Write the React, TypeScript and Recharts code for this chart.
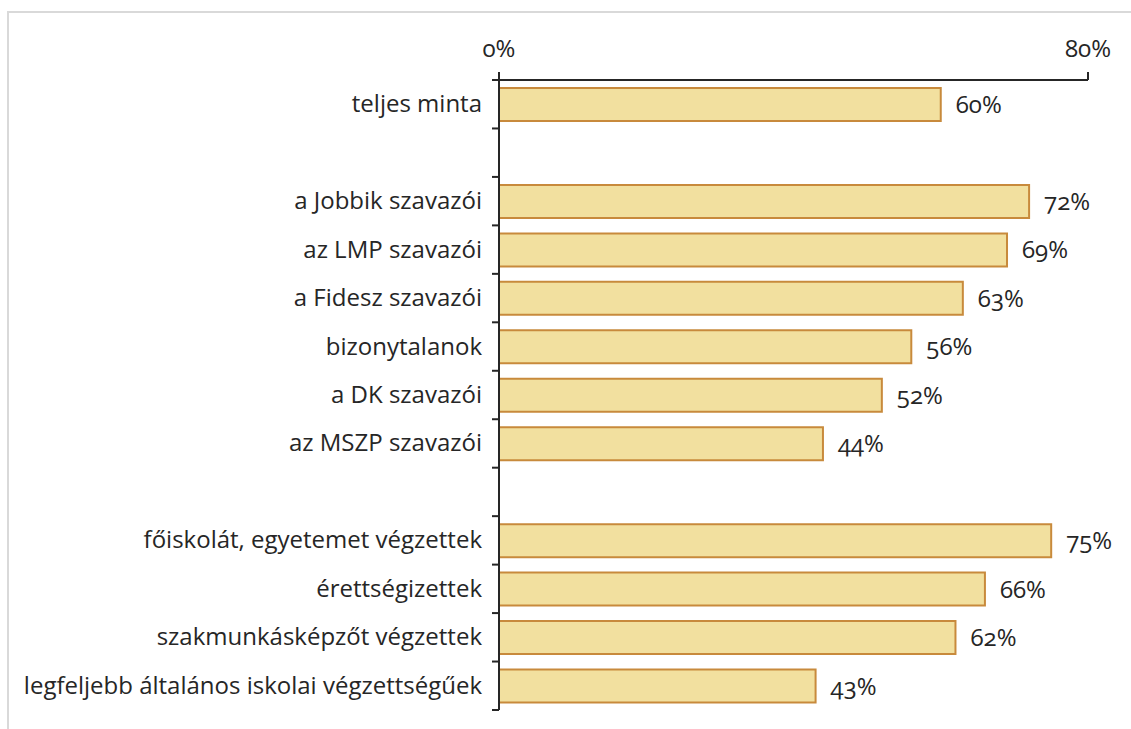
import React from "react";
import { BarChart, Bar, XAxis, YAxis, LabelList } from "recharts";

const categories = [
  "teljes minta",
  " ",
  "a Jobbik szavazói",
  "az LMP szavazói",
  "a Fidesz szavazói",
  "bizonytalanok",
  "a DK szavazói",
  "az MSZP szavazói",
  "  ",
  "főiskolát, egyetemet végzettek",
  "érettségizettek",
  "szakmunkásképzőt végzettek",
  "legfeljebb általános iskolai végzettségűek",
];
const values: (number | null)[] = [60, null, 72, 69, 63, 56, 52, 44, null, 75, 66, 62, 43];
const xTicks = [0, 80];

const data = categories.map((name, i) => ({ name, value: values[i] }));

const W = 1131;
const H = 729;
const PLOT_TOP = 80;
const PLOT_BOTTOM = 710;
const AXIS_X = 499;
const BAND = (PLOT_BOTTOM - PLOT_TOP) / categories.length;
const FONT = "'Open Sans', sans-serif";
const TEXT = "#262626";
const FS = 24;

function CategoryTick(props: any) {
  const { y, payload, index } = props;
  const top = y - BAND / 2;
  const isLast = index === categories.length - 1;
  return (
    <g>
      <line x1={AXIS_X - 7} x2={AXIS_X} y1={top} y2={top} stroke={TEXT} strokeWidth={2} />
      {isLast && (
        <line x1={AXIS_X - 7} x2={AXIS_X} y1={top + BAND} y2={top + BAND} stroke={TEXT} strokeWidth={2} />
      )}
      <text
        x={AXIS_X - 17}
        y={y}
        dy={8}
        textAnchor="end"
        fill={TEXT}
        fontSize={FS}
        fontFamily={FONT}
        style={{ fontVariantNumeric: "oldstyle-nums" }}
      >
        {payload.value.trim()}
      </text>
    </g>
  );
}

export default function App() {
  return (
    <div style={{ position: "absolute", left: 0, top: 0, width: W, height: H, background: "#fff" }}>
      <div
        style={{
          position: "absolute",
          left: 7,
          top: 11,
          width: W - 7,
          height: H - 11,
          borderTop: "2px solid #d9d9d9",
          borderLeft: "2px solid #d9d9d9",
          boxSizing: "border-box",
        }}
      />
      <div style={{ position: "absolute", left: 0, top: 0 }}>
        <BarChart
          width={W}
          height={H}
          data={data}
          layout="vertical"
          margin={{ top: 40, right: 43, bottom: H - PLOT_BOTTOM, left: 0 }}
          barSize={33}
        >
          <XAxis
            type="number"
            orientation="top"
            domain={[0, 80]}
            ticks={xTicks}
            height={40}
            tickFormatter={(v) => `${v}%`}
            axisLine={{ stroke: TEXT, strokeWidth: 2 }}
            tickLine={{ stroke: TEXT, strokeWidth: 2 }}
            tickSize={8}
            tickMargin={15}
            tick={{ fill: TEXT, fontSize: FS, fontFamily: FONT, style: { fontVariantNumeric: "oldstyle-nums" } }}
          />
          <YAxis
            type="category"
            dataKey="name"
            width={AXIS_X}
            interval={0}
            axisLine={{ stroke: TEXT, strokeWidth: 2 }}
            tickLine={false}
            tick={<CategoryTick />}
          />
          <Bar dataKey="value" fill="#F2E09F" stroke="#C88A3C" strokeWidth={2} isAnimationActive={false}>
            <LabelList
              dataKey="value"
              position="right"
              offset={15}
              formatter={(v: any) => (v == null ? "" : `${v}%`)}
              fill={TEXT}
              fontSize={FS}
              fontFamily={FONT}
              style={{ fontVariantNumeric: "oldstyle-nums" }}
            />
          </Bar>
        </BarChart>
      </div>
    </div>
  );
}
